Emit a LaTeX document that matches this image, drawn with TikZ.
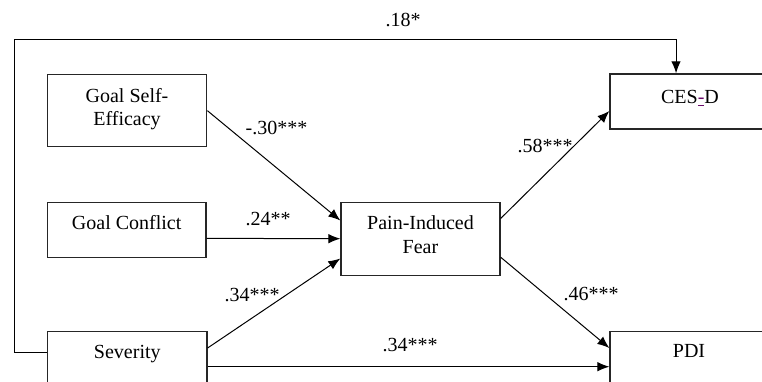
\documentclass[tikz,border=0pt]{standalone}
\usepackage{fontspec}
\setmainfont{Liberation Serif}
\usetikzlibrary{arrows.meta,calc}
\definecolor{linkpurple}{HTML}{6A0A6A}
\begin{document}
\begin{tikzpicture}[x=1pt,y=-1pt,
  box/.style={draw=black!85,line width=1.3pt,anchor=north,align=center,inner ysep=0pt,inner xsep=0pt,
     font=\fontsize{20}{23}\selectfont},
  lab/.style={anchor=base,inner sep=0pt,font=\fontsize{20}{23}\selectfont},
  arr/.style={draw=black,line width=1pt,-{Latex[length=12pt,width=9.5pt]}}
]
\useasboundingbox (0,0) rectangle (762,382);
\clip (0,0) rectangle (762,382);
% boxes
\node[box,minimum width=159.4pt,text height=51pt,text depth=21pt,font=\fontsize{20}{22.7}\selectfont] (gse) at (127,74) {Goal Self-\\Efficacy};
\node[box,minimum width=158.7pt,text height=27.6pt,text depth=27.4pt] (gc) at (126.7,201.7) {Goal Conflict};
\node[box,minimum width=159pt,text height=51.6pt,text depth=21.7pt,font=\fontsize{20}{24}\selectfont] (fear) at (420.5,201.7) {Pain-Induced\\Fear};
\node[box,minimum width=159.3pt,text height=27.3pt,text depth=80pt] (sev) at (127.3,330.7) {Severity};
\node[box,minimum width=160pt,text height=29.4pt,text depth=25.6pt] (cesd) at (690,73.3) {CES{\color{linkpurple}\underline{-}}D};
\node[box,minimum width=158pt,text height=26.3pt,text depth=80pt] (pdi) at (689,330.7) {PDI};
% connectors
\coordinate (topleft) at (14,40);
\draw[arr] ($(sev.north west)+(0,22)$) -| (topleft) -| ($(cesd.north west)+(66.7,0)$);
\draw[arr] (gse.east) -- ($(fear.west)+(0,-18.5)$);
\draw[arr] ($(gc.east)+(0,8.5)$) -- ($(fear.west)+(0,-0.3)$);
\draw[arr] ($(sev.north east)+(0,17.3)$) -- ($(fear.west)+(0,19.5)$);
\draw[arr] ($(sev.north east)+(0,36)$) -- ($(pdi.north west)+(0,36)$);
\draw[arr] ($(fear.east)+(0,-20.5)$) -- ($(cesd.north west)+(0,37.7)$);
\draw[arr] ($(fear.east)+(0,18.2)$) -- ($(pdi.north west)+(0,17.3)$);
% labels
\node[lab] (l18) at (403,26.7) {.18*};
\node[lab] (l30) at (276.5,135) {-.30***};
\node[lab] (l24) at (268,225) {.24**};
\node[lab] (l34a) at (252,301.7) {.34***};
\node[lab] (l34b) at (410,351.7) {.34***};
\node[lab] (l58) at (545,153) {.58***};
\node[lab] (l46) at (591,300) {.46***};
\end{tikzpicture}
\end{document}
